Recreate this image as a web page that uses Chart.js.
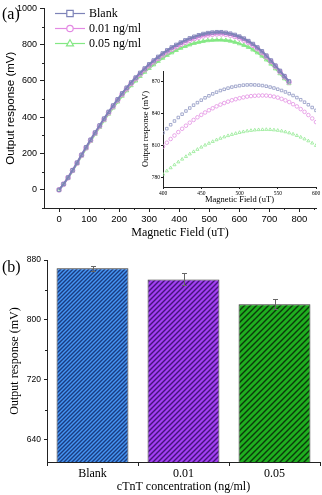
<!DOCTYPE html>
<html lang="en">

<head>
    <meta charset="UTF-8">
    <title>Output response vs magnetic field</title>
    <script src="https://cdn.jsdelivr.net/npm/chart.js"></script>
    <style>
        body {
            margin: 0;
            background: #fff;
        }

        #wrap {
            position: relative;
            width: 322px;
            height: 495px;
        }

        canvas {
            position: absolute;
        }

        #mainChart { left: 0; top: 0; }
        #insetChart { left: 138px; top: 64px; }
        #barChart { left: 0; top: 250px; }
    </style>
</head>

<body>
    <div id="wrap">
        <canvas id="mainChart" width="322" height="250"></canvas>
        <canvas id="insetChart" width="184" height="145"></canvas>
        <canvas id="barChart" width="322" height="245"></canvas>
    </div>

    <script>
        // ---- data ----
        const seriesNames = ['Blank', '0.01 ng/ml', '0.05 ng/ml'];

        // panel (a), full sweep
        const fieldMain = [0, 15, 30, 45, 60, 75, 90, 105, 120, 135, 150, 165, 180, 195, 210, 225, 240, 255, 270, 285,
            300, 315, 330, 345, 360, 375, 390, 405, 420, 435, 450, 465, 480, 495, 510, 525, 540, 555, 570, 585,
            600, 615, 630, 645, 660, 675, 690, 705, 720, 735, 750, 765];
        const blankMain = [0, 32, 68, 108, 150, 193, 235, 276, 316, 355, 393, 430, 465, 499, 532, 563, 592, 619, 645, 669,
            692, 713, 733, 752, 769, 785, 799, 812, 824, 835, 844, 852, 859, 864, 867, 869, 869, 866, 861, 854,
            845, 834, 820, 804, 785, 764, 740, 713, 685, 656, 627, 598];
        const pinkMain = [0, 31, 67, 107, 148, 191, 232, 273, 313, 351, 389, 425, 460, 494, 526, 557, 586, 613, 638, 662,
            684, 705, 725, 743, 760, 775, 789, 802, 814, 825, 834, 842, 849, 854, 858, 860, 860, 858, 853, 846,
            837, 826, 813, 797, 778, 757, 734, 708, 680, 651, 623, 594];
        const greenMain = [0, 30, 65, 104, 145, 187, 228, 268, 307, 345, 382, 418, 452, 485, 517, 547, 575, 601, 626, 649,
            670, 690, 709, 726, 742, 756, 769, 781, 791, 800, 808, 814, 819, 823, 825, 826, 826, 824, 820, 814,
            806, 797, 786, 772, 756, 738, 717, 694, 668, 641, 613, 586];

        // inset, 400-600 uT
        const fieldInset = [400, 405, 410, 415, 420, 425, 430, 435, 440, 445, 450, 455, 460, 465, 470, 475, 480, 485, 490, 495,
            500, 505, 510, 515, 520, 525, 530, 535, 540, 545, 550, 555, 560, 565, 570, 575, 580, 585, 590, 595, 600];
        const blankInset = [822, 825.8, 829.5, 833.0, 836.3, 839.4, 842.4, 845.2, 847.9, 850.3, 852.6, 854.8, 856.7, 858.5,
            860.1, 861.6, 862.8, 863.9, 864.9, 865.6, 866.2, 866.7, 866.9, 867, 866.9, 866.7, 866.3, 865.7, 864.9,
            864.0, 862.9, 861.7, 860.3, 858.7, 857.0, 855.0, 853.0, 850.7, 848.3, 845.7, 843];
        const pinkInset = [809, 812.6, 816.1, 819.4, 822.6, 825.7, 828.6, 831.4, 834.0, 836.5, 838.8, 841.0, 843.1, 845.0,
            846.8, 848.4, 849.9, 851.2, 852.5, 853.5, 854.4, 855.2, 855.9, 856.4, 856.7, 856.9, 857, 856.9, 856.5,
            855.9, 855.0, 853.8, 852.4, 850.8, 848.8, 846.7, 844.2, 841.6, 838.6, 835.4, 832];
        const greenInset = [783, 786.1, 789.0, 791.8, 794.5, 797.1, 799.6, 802.0, 804.2, 806.3, 808.4, 810.3, 812.0, 813.7,
            815.3, 816.7, 818.0, 819.2, 820.3, 821.3, 822.2, 822.9, 823.6, 824.1, 824.5, 824.8, 824.9, 825, 824.9,
            824.6, 824.2, 823.6, 822.8, 821.8, 820.7, 819.3, 817.8, 816.1, 814.3, 812.2, 810];

        const mainXTicks = [0, 100, 200, 300, 400, 500, 600, 700, 800];
        const mainXMinor = [50, 150, 250, 350, 450, 550, 650, 750, 850];
        const mainYTicks = [0, 200, 400, 600, 800, 1000];
        const mainYMinor = [-100, 100, 300, 500, 700, 900];
        const insetXTicks = [400, 450, 500, 550, 600];
        const insetYTicks = [780, 810, 840, 870];

        // panel (b)
        const barLabels = ['Blank', '0.01', '0.05'];
        const barValues = [869, 854, 821];
        const barErrors = [3.5, 8, 7];
        const barYTicks = [640, 720, 800, 880];
        const barYMinor = [680, 760, 840];

        // ---- styles ----
        const seriesColors = ['#7d83b8', '#e38ae3', '#84e884'];
        const insetColors = ['#8e96c2', '#e391e3', '#93ea93'];
        const seriesMarkers = ['rect', 'circle', 'triangle'];
        const SERIF = "'Liberation Serif', 'Times New Roman', serif";
        const SANS = "'Liberation Sans', Arial, sans-serif";
        const AXIS = '#222';

        Chart.defaults.font.family = SANS;
        Chart.defaults.color = '#000';

        const pairs = (xs, ys) => xs.map((x, i) => ({ x: x, y: ys[i] }));
        const fixTicks = list => scale => { scale.ticks = list.map(v => ({ value: v })); };
        const plain = v => String(v);

        // small unlabeled ticks between the labeled ones
        const minorTicks = {
            id: 'minorTicks',
            afterDraw(chart, args, opts) {
                const { ctx, chartArea, scales } = chart;
                ctx.save();
                ctx.strokeStyle = AXIS;
                ctx.lineWidth = 1;
                ctx.beginPath();
                (opts.x || []).forEach(v => {
                    const px = Math.round(scales.x.getPixelForValue(v)) + 0.5;
                    ctx.moveTo(px, chartArea.bottom);
                    ctx.lineTo(px, chartArea.bottom + opts.len);
                });
                (opts.y || []).forEach(v => {
                    const py = Math.round(scales.y.getPixelForValue(v)) + 0.5;
                    ctx.moveTo(chartArea.left, py);
                    ctx.lineTo(chartArea.left - opts.len, py);
                });
                ctx.stroke();
                ctx.restore();
            }
        };

        // "(a)" / "(b)"
        const panelLabel = {
            id: 'panelLabel',
            afterDraw(chart, args, opts) {
                const ctx = chart.ctx;
                ctx.save();
                ctx.font = '16px ' + SERIF;
                ctx.fillStyle = '#000';
                ctx.textBaseline = 'middle';
                ctx.fillText(opts.text, opts.x, opts.y);
                ctx.restore();
            }
        };

        function drawMarker(ctx, style, x, y, r) {
            ctx.beginPath();
            if (style === 'rect') {
                ctx.rect(x - r, y - r, 2 * r, 2 * r);
            } else if (style === 'circle') {
                ctx.arc(x, y, r, 0, Math.PI * 2);
            } else {
                ctx.moveTo(x, y - r * 1.15);
                ctx.lineTo(x + r * 1.1, y + r * 0.75);
                ctx.lineTo(x - r * 1.1, y + r * 0.75);
                ctx.closePath();
            }
            ctx.fill();
            ctx.stroke();
        }

        // line + marker legend inside the plot
        const curveLegend = {
            id: 'curveLegend',
            afterDraw(chart) {
                const ctx = chart.ctx;
                ctx.save();
                ctx.font = '12px ' + SERIF;
                ctx.textBaseline = 'middle';
                seriesNames.forEach((name, i) => {
                    const y = 13 + i * 15;
                    ctx.strokeStyle = seriesColors[i];
                    ctx.lineWidth = 1.2;
                    ctx.beginPath();
                    ctx.moveTo(55, y + 0.5);
                    ctx.lineTo(85, y + 0.5);
                    ctx.stroke();
                    ctx.fillStyle = '#fff';
                    drawMarker(ctx, seriesMarkers[i], 70, y + 0.5, 3.2);
                    ctx.fillStyle = '#000';
                    ctx.fillText(name, 89, y + 1);
                });
                ctx.restore();
            }
        };

        // ---- panel (a) ----
        const mainSeries = [blankMain, pinkMain, greenMain];
        new Chart(document.getElementById('mainChart'), {
            type: 'scatter',
            data: {
                datasets: seriesNames.map((name, i) => ({
                    label: name,
                    data: pairs(fieldMain, mainSeries[i]),
                    showLine: true,
                    borderColor: seriesColors[i],
                    borderWidth: 2,
                    tension: 0.3,
                    pointStyle: seriesMarkers[i],
                    pointRadius: 2.4,
                    pointBorderWidth: 0.9,
                    pointBorderColor: seriesColors[i],
                    pointBackgroundColor: 'rgba(255,255,255,0)'
                }))
            },
            options: {
                responsive: false,
                animation: false,
                layout: { padding: { left: 0, right: 6, top: 6, bottom: 0 } },
                plugins: {
                    legend: { display: false },
                    tooltip: { enabled: false },
                    minorTicks: { x: mainXMinor, y: mainYMinor, len: 2 },
                    panelLabel: { text: '(a)', x: 2, y: 15 }
                },
                scales: {
                    x: {
                        type: 'linear',
                        min: -50,
                        max: 855,
                        afterBuildTicks: fixTicks(mainXTicks),
                        afterFit: s => { s.height = 42; },
                        grid: { drawOnChartArea: false, tickLength: 4, color: AXIS },
                        border: { color: AXIS },
                        ticks: { font: { size: 9.5 }, padding: 2, maxRotation: 0, callback: plain },
                        title: {
                            display: true, text: 'Magnetic Field (uT)',
                            font: { family: SERIF, size: 12 }, padding: { top: 0, bottom: 10 }
                        }
                    },
                    y: {
                        min: -100,
                        max: 1000,
                        afterBuildTicks: fixTicks(mainYTicks),
                        afterFit: s => { s.width = 44; },
                        grid: { drawOnChartArea: false, tickLength: 4, color: AXIS },
                        border: { color: AXIS },
                        ticks: { font: { size: 9 }, padding: 3, callback: plain },
                        title: {
                            display: true, text: 'Output response (mV)',
                            font: { size: 11.5 }, padding: { top: 4, bottom: 0 }
                        }
                    }
                }
            },
            plugins: [minorTicks, panelLabel, curveLegend]
        });

        // ---- inset ----
        const insetSeries = [blankInset, pinkInset, greenInset];
        new Chart(document.getElementById('insetChart'), {
            type: 'scatter',
            data: {
                datasets: seriesNames.map((name, i) => ({
                    label: name,
                    data: pairs(fieldInset, insetSeries[i]),
                    showLine: false,
                    pointStyle: seriesMarkers[i],
                    pointRadius: 1.8,
                    pointBorderWidth: 0.8,
                    pointBorderColor: insetColors[i],
                    pointBackgroundColor: 'rgba(255,255,255,0)'
                }))
            },
            options: {
                responsive: false,
                animation: false,
                layout: { padding: { left: 0, right: 6, top: 7, bottom: 0 } },
                plugins: { legend: { display: false }, tooltip: { enabled: false } },
                scales: {
                    x: {
                        type: 'linear',
                        min: 400,
                        max: 600,
                        afterBuildTicks: fixTicks(insetXTicks),
                        afterFit: s => { s.height = 22; },
                        grid: { drawOnChartArea: false, tickLength: 2, color: AXIS },
                        border: { color: AXIS },
                        ticks: { font: { family: SERIF, size: 5.5 }, padding: 1, maxRotation: 0, callback: plain },
                        title: {
                            display: true, text: 'Magnetic Field (uT)',
                            font: { family: SERIF, size: 8.5 }, padding: { top: 0, bottom: 4 }
                        }
                    },
                    y: {
                        min: 771,
                        max: 880,
                        afterBuildTicks: fixTicks(insetYTicks),
                        afterFit: s => { s.width = 25; },
                        grid: { drawOnChartArea: false, tickLength: 2, color: AXIS },
                        border: { color: AXIS },
                        ticks: { font: { family: SERIF, size: 5.5 }, padding: 1, callback: plain },
                        title: {
                            display: true, text: 'Output response (mV)',
                            font: { family: SERIF, size: 8.5 }, padding: { top: 2.5, bottom: 0 }
                        }
                    }
                }
            }
        });

        // ---- panel (b) ----
        const barCanvas = document.getElementById('barChart');
        const barCtx = barCanvas.getContext('2d');

        function hatch(bg, line, size) {
            const c = document.createElement('canvas');
            c.width = size;
            c.height = size;
            const g = c.getContext('2d');
            g.fillStyle = bg;
            g.fillRect(0, 0, size, size);
            g.strokeStyle = line;
            g.lineWidth = 1.4;
            g.beginPath();
            g.moveTo(0, size); g.lineTo(size, 0);
            g.moveTo(-1, 1); g.lineTo(1, -1);
            g.moveTo(size - 1, size + 1); g.lineTo(size + 1, size - 1);
            g.stroke();
            return barCtx.createPattern(c, 'repeat');
        }

        const barFills = [
            hatch('#4595f3', '#1b3c80', 4),
            hatch('#a23ff2', '#45137a', 5),
            hatch('#1fae1f', '#0a3a0a', 6)
        ];

        const errorBars = {
            id: 'errorBars',
            afterDatasetsDraw(chart) {
                const ctx = chart.ctx;
                const y = chart.scales.y;
                ctx.save();
                ctx.strokeStyle = '#666';
                ctx.lineWidth = 1;
                chart.getDatasetMeta(0).data.forEach((bar, i) => {
                    const top = Math.round(y.getPixelForValue(barValues[i] + barErrors[i])) + 0.5;
                    const bot = Math.round(y.getPixelForValue(barValues[i] - barErrors[i])) + 0.5;
                    const x = Math.round(bar.x) + 0.5;
                    ctx.beginPath();
                    ctx.moveTo(x, top); ctx.lineTo(x, bot);
                    ctx.moveTo(x - 2.5, top); ctx.lineTo(x + 2.5, top);
                    ctx.moveTo(x - 2.5, bot); ctx.lineTo(x + 2.5, bot);
                    ctx.stroke();
                });
                ctx.restore();
            }
        };

        new Chart(barCanvas, {
            type: 'bar',
            data: {
                labels: barLabels,
                datasets: [{
                    data: barValues,
                    backgroundColor: barFills,
                    borderColor: '#333',
                    borderWidth: 1,
                    barPercentage: 0.79,
                    categoryPercentage: 1
                }]
            },
            options: {
                responsive: false,
                animation: false,
                layout: { padding: { left: 0, right: 2, top: 10, bottom: 0 } },
                plugins: {
                    legend: { display: false },
                    tooltip: { enabled: false },
                    minorTicks: { y: barYMinor, len: 2 },
                    panelLabel: { text: '(b)', x: 2, y: 18 }
                },
                scales: {
                    x: {
                        afterFit: s => { s.height = 33; },
                        grid: { drawOnChartArea: false, tickLength: 4, color: AXIS, offset: true },
                        border: { color: AXIS },
                        ticks: { font: { family: SERIF, size: 12 }, padding: 1 },
                        title: {
                            display: true, text: 'cTnT concentration (ng/ml)',
                            font: { family: SERIF, size: 12 }, padding: { top: 0, bottom: 0.5 }
                        }
                    },
                    y: {
                        min: 610,
                        max: 880,
                        afterBuildTicks: fixTicks(barYTicks),
                        afterFit: s => { s.width = 47; },
                        grid: { drawOnChartArea: false, tickLength: 3, color: AXIS },
                        border: { color: AXIS },
                        ticks: { font: { size: 8.5 }, padding: 3, callback: plain },
                        title: {
                            display: true, text: 'Output response (mV)',
                            font: { family: SERIF, size: 12 }, padding: { top: 8, bottom: 0 }
                        }
                    }
                }
            },
            plugins: [minorTicks, panelLabel, errorBars]
        });
    </script>
</body>

</html>
